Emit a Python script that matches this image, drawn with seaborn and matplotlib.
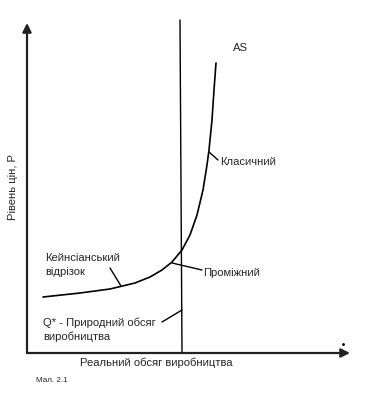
import numpy as np
import pandas as pd
import matplotlib
matplotlib.use("Agg")
import matplotlib.pyplot as plt
import seaborn as sns

# AS curve (Q to the right, P upwards)
as_q = [16, 53, 83, 108, 123, 135, 145, 155, 163, 170, 176, 180, 182, 185, 187, 189]
as_p = [56, 60, 64, 70, 76, 83, 91, 103, 118, 138, 163, 188, 203, 233, 263, 290]

q_star = 154          # natural output
q_star_top = 333
p_axis_top = 330
q_axis_end = 323

x_label = "Реальний обсяг виробництва"
y_label = "Рівень цін, P"
caption = "Мал. 2.1"

sns.set_theme(style="white")
plt.rcParams['font.family'] = ['Liberation Sans', 'DejaVu Sans']

fig = plt.figure(figsize=(3.65, 3.99), dpi=100)
ax = fig.add_axes([0, 0, 1, 1])
ax.set_xlim(-27, 338)
ax.set_ylim(-46, 353)
ax.axis('off')

df = pd.DataFrame({'Q': as_q, 'P': as_p})
sns.lineplot(data=df, x='Q', y='P', sort=False, color='black', lw=1.2, ax=ax)

# vertical Q* line
ax.plot([q_star - 1, q_star + 1], [q_star_top, 0], color='black', lw=1.0)

# axes with arrows
ax.annotate('', xy=(0, p_axis_top), xytext=(0, 0),
            arrowprops=dict(arrowstyle='-|>', color='#222222', lw=1.6,
                            mutation_scale=13, shrinkA=0, shrinkB=0))
ax.annotate('', xy=(q_axis_end, 0), xytext=(0, 0),
            arrowprops=dict(arrowstyle='-|>', color='#222222', lw=1.6,
                            mutation_scale=13, shrinkA=0, shrinkB=0))
ax.plot([316], [9], marker='.', color='black', ms=2)

fs = 8.1
ax.text(213, 305, 'AS', fontsize=fs, ha='center', va='center')

# Класичний
ax.plot([182, 191], [201, 193], color='black', lw=1.0)
ax.text(193, 191, 'Класичний', fontsize=fs, ha='left', va='center')

# Проміжний
ax.plot([145, 175], [90, 83], color='black', lw=1.0)
ax.text(176, 80, 'Проміжний', fontsize=fs, ha='left', va='center')

# Кейнсіанський відрізок
ax.plot([83, 94], [85, 67], color='black', lw=1.0)
ax.text(18, 88, 'Кейнсіанський\nвідрізок', fontsize=fs, ha='left', va='center',
        linespacing=1.45)

# Q*
ax.plot([135, 155], [31, 43], color='black', lw=1.0)
ax.text(16, 23, 'Q* - Природний обсяг\nвиробництва', fontsize=fs, ha='left',
        va='center', linespacing=1.4)

ax.text(129, -10, x_label, fontsize=fs, ha='center', va='center')
ax.text(-14, 166, y_label, fontsize=fs, ha='center', va='center', rotation=90)
ax.text(9, -27, caption, fontsize=5.8, ha='left', va='center')

fig.savefig('out.png', dpi=100)
